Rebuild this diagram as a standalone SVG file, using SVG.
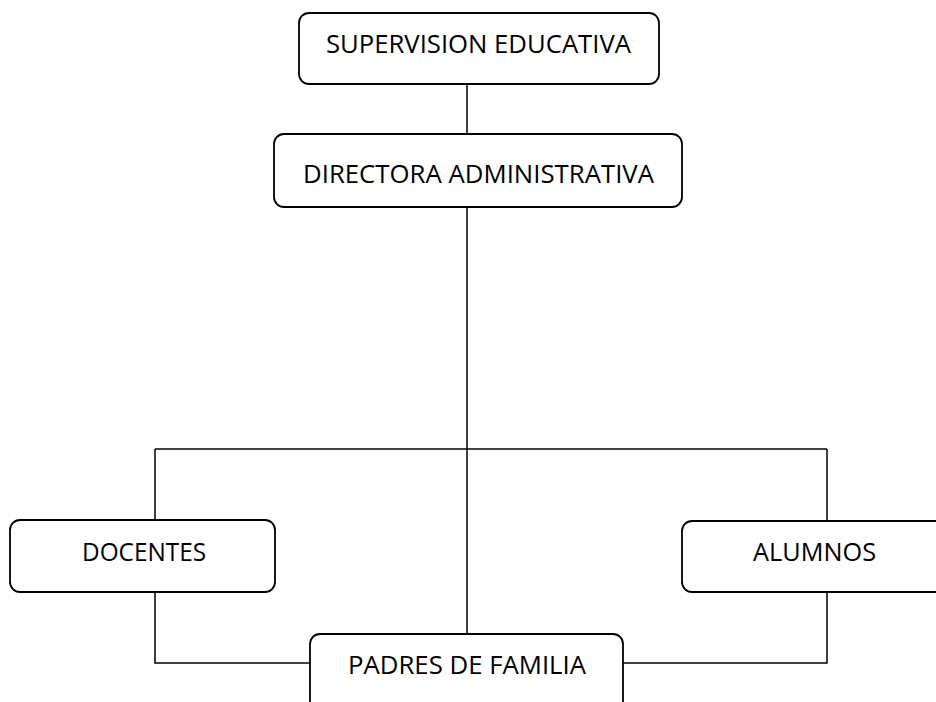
<svg xmlns="http://www.w3.org/2000/svg" width="936" height="702" viewBox="0 0 936 702">
<style>
.box{fill:#fff;stroke:#000;stroke-width:1.8}
.lbl{font-family:"Open Sans","Liberation Sans",sans-serif;font-size:25px;fill:#000;text-anchor:start}
.con{fill:none;stroke:#000;stroke-width:1.5}
</style>
<rect width="936" height="702" fill="#fff"/>
<g id="connectors">
<path class="con" d="M467 84V134"/>
<path class="con" d="M467 207V634"/>
<path class="con" d="M155 449H827"/>
<path class="con" d="M155 449V520"/>
<path class="con" d="M827 449V521"/>
<path class="con" d="M155 592V663H310"/>
<path class="con" d="M827 592V663H623"/>
</g>
<g id="supervision">
<rect class="box" x="299" y="13" width="360" height="71" rx="10"/>
<text class="lbl" x="326" y="53" textLength="305" lengthAdjust="spacingAndGlyphs">SUPERVISION EDUCATIVA</text>
</g>
<g id="directora">
<rect class="box" x="274" y="134" width="408" height="73" rx="10"/>
<text class="lbl" x="303" y="183" textLength="351" lengthAdjust="spacingAndGlyphs">DIRECTORA ADMINISTRATIVA</text>
</g>
<g id="docentes">
<rect class="box" x="10" y="520" width="265" height="72" rx="10"/>
<text class="lbl" x="82" y="561" textLength="124" lengthAdjust="spacingAndGlyphs">DOCENTES</text>
</g>
<g id="alumnos">
<rect class="box" x="682" y="521" width="270" height="71" rx="10"/>
<text class="lbl" x="753" y="561" textLength="123" lengthAdjust="spacingAndGlyphs">ALUMNOS</text>
</g>
<g id="padres">
<rect class="box" x="310" y="634" width="313" height="80" rx="10"/>
<text class="lbl" x="348" y="674" textLength="238" lengthAdjust="spacingAndGlyphs">PADRES DE FAMILIA</text>
</g>
</svg>
